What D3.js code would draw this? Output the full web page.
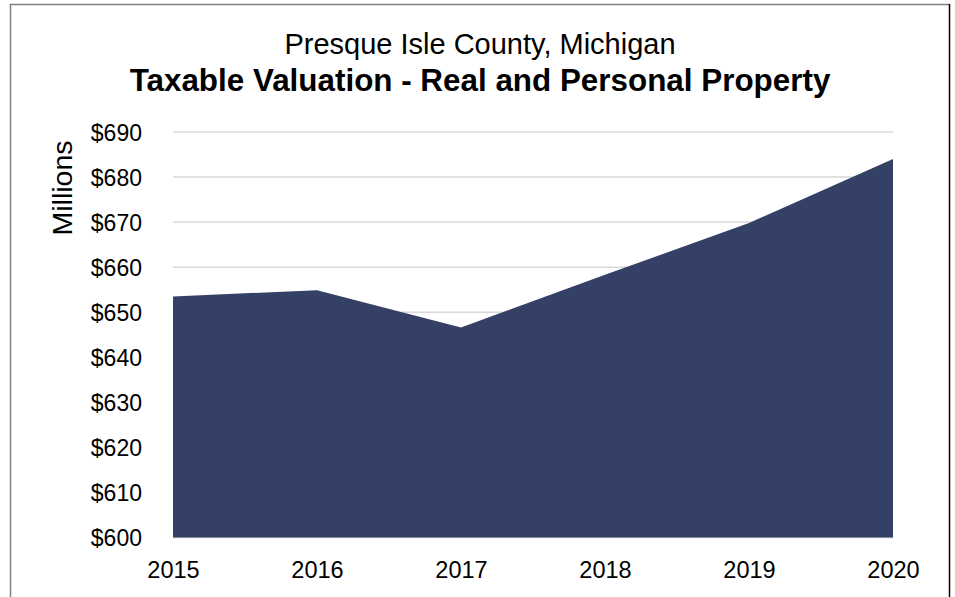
<!DOCTYPE html>
<html lang="en">
<head>
    <meta charset="UTF-8">
    <title>Presque Isle County Taxable Valuation</title>
    <script src="https://d3js.org/d3.v7.min.js"></script>
    <style>
        body { margin: 0; background: #fff; }
        text { font-family: "Liberation Sans", Arial, sans-serif; fill: #000; }
    </style>
</head>
<body>
    <script type="text/javascript">
        var width = 955, height = 597;

        // data, in millions of dollars
        var years = ["2015", "2016", "2017", "2018", "2019", "2020"];
        var values = [653.5, 654.9, 646.6, 658.3, 669.8, 684.0];
        var yTicks = [600, 610, 620, 630, 640, 650, 660, 670, 680, 690];

        var svg = d3.select("body").append("svg")
            .attr("width", width)
            .attr("height", height);

        // outer frame
        svg.append("path")
            .attr("d", "M10.5,600 V4.5 H949.5")
            .attr("fill", "none").attr("stroke", "#7f7f7f").attr("stroke-width", 1.5);
        svg.append("line")
            .attr("x1", 949.5).attr("x2", 949.5).attr("y1", 4).attr("y2", 600)
            .attr("stroke", "#000").attr("stroke-width", 1.5);

        var x = d3.scalePoint().domain(years).range([173, 893]);
        var y = d3.scaleLinear().domain([600, 690]).range([537.5, 132]);

        // gridlines
        svg.append("g").selectAll("line")
            .data(yTicks)
            .enter().append("line")
            .attr("x1", 173).attr("x2", 893)
            .attr("y1", function(d){ return y(d); })
            .attr("y2", function(d){ return y(d); })
            .attr("stroke", "#d9d9d9").attr("stroke-width", 1.5);

        // area
        var area = d3.area()
            .x(function(d, i){ return x(years[i]); })
            .y0(y(600))
            .y1(function(d){ return y(d); });
        svg.append("path")
            .datum(values)
            .attr("d", area)
            .attr("fill", "#354066");

        // y axis labels
        var yAxis = d3.axisLeft(y).tickValues(yTicks).tickSize(0).tickPadding(0)
            .tickFormat(function(d){ return "$" + d; });
        var gy = svg.append("g").attr("transform", "translate(142,0)").call(yAxis);
        gy.select(".domain").remove();
        gy.selectAll("text").attr("font-size", 23).attr("font-family", null).attr("dy", "0.35em");

        // x axis labels
        var xAxis = d3.axisBottom(x).tickSize(0).tickPadding(0);
        var gx = svg.append("g").attr("transform", "translate(0,561)").call(xAxis);
        gx.select(".domain").remove();
        gx.selectAll("text").attr("font-size", 23.5).attr("font-family", null).attr("dy", "0.71em");

        // y axis title
        svg.append("text")
            .attr("transform", "translate(62,188) rotate(-90)")
            .attr("text-anchor", "middle")
            .attr("dy", "0.35em")
            .attr("font-size", 28.5)
            .text("Millions");

        // titles
        svg.append("text")
            .attr("x", 480).attr("y", 54)
            .attr("text-anchor", "middle")
            .attr("font-size", 29)
            .text("Presque Isle County, Michigan");
        svg.append("text")
            .attr("x", 480).attr("y", 91)
            .attr("text-anchor", "middle")
            .attr("font-size", 31.4)
            .attr("font-weight", "bold")
            .text("Taxable Valuation - Real and Personal Property");
    </script>
</body>
</html>
